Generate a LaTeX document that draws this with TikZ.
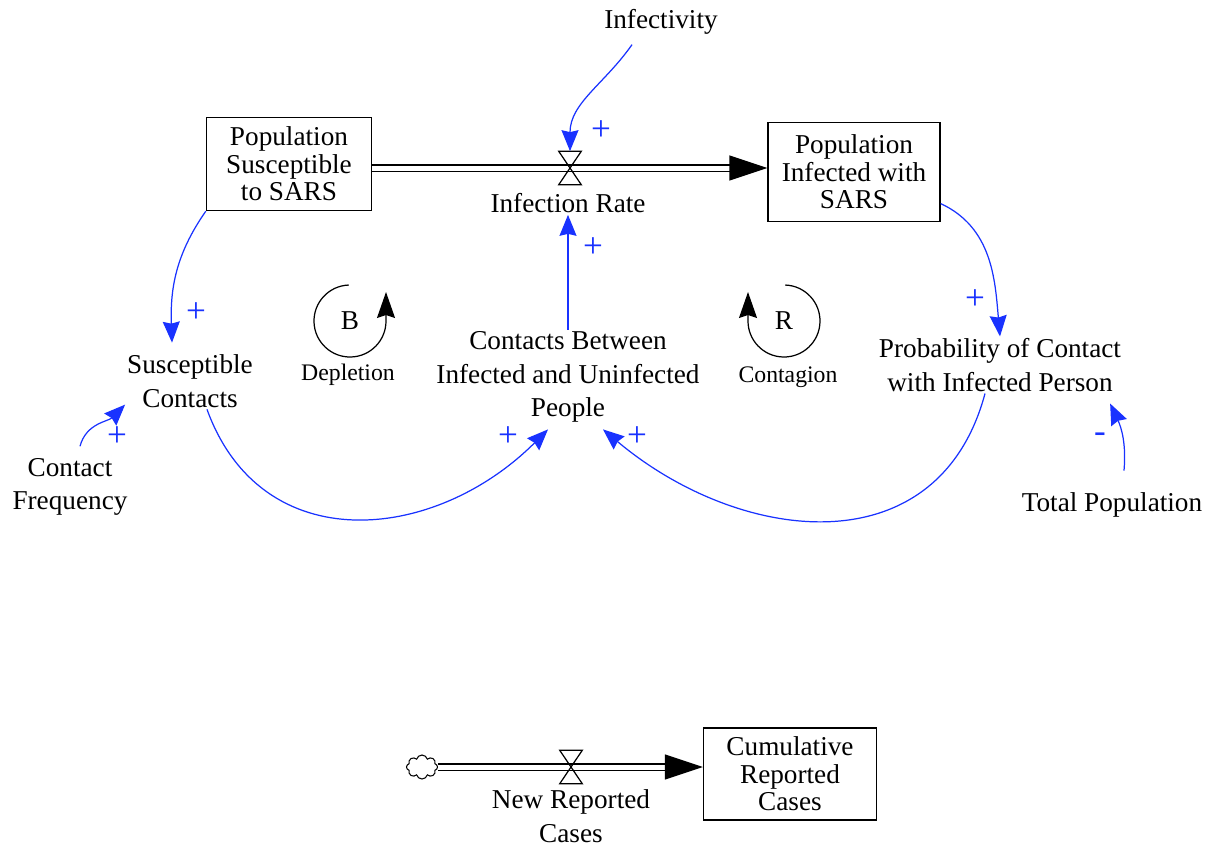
\documentclass[tikz,border=0pt]{standalone}
\usepackage{fontspec}
\setmainfont{Liberation Serif}
\usetikzlibrary{arrows.meta,shapes.symbols}

\definecolor{linkblue}{RGB}{25,50,255}

\tikzset{
  stock/.style={draw, line width=0.8pt, align=center, inner sep=2pt, font=\fontsize{15.5}{15.6}\selectfont},
  aux/.style={align=center, inner sep=1pt, font=\fontsize{15.5}{19}\selectfont},
  link/.style={draw=linkblue, line width=0.7pt, -{Stealth[length=0.42cm,width=0.34cm,inset=0.04cm]}},
  pipe/.style={double, double distance=0.1cm, line width=0.8pt, -{Triangle[length=0.76cm,width=0.5cm]}},
  valve/.style={minimum width=0.44cm, minimum height=0.66cm, inner sep=0pt},
  sign/.style={text=linkblue, inner sep=0pt, font=\fontsize{20}{20}\selectfont},
  loopline/.style={line width=0.7pt, -{Stealth[length=0.52cm,width=0.36cm,inset=0.06cm]}},
  looplabel/.style={inner sep=1pt, font=\fontsize{13.5}{14}\selectfont}
}

\begin{document}
\begin{tikzpicture}[x=0.02cm, y=0.02cm]
  \useasboundingbox (0,0) rectangle (1214,-846);

  % stocks
  \node[stock, minimum width=3.3cm, minimum height=1.86cm] (sus) at (289,-164) {Population\\Susceptible\\to SARS};
  \node[stock, minimum width=3.44cm, minimum height=1.98cm] (inf) at (854,-172) {Population\\Infected with\\SARS};
  \node[stock, minimum width=3.46cm, minimum height=1.84cm] (cum) at (790,-774) {Cumulative\\Reported\\Cases};

  % variables
  \node[valve] (v1) at (570,-168) {};
  \node[aux] (rate) at (568,-203) {Infection Rate};
  \node[aux] (infect) at (661,-22) {Infectivity};
  \node[aux] (cont) at (568,-377) {Contacts Between\\Infected and Uninfected\\People};
  \node[aux] (sc) at (190,-381) {Susceptible\\Contacts};
  \node[aux] (freq) at (70,-487) {Contact\\Frequency};
  \node[aux] (prob) at (1000,-365) {Probability of Contact\\with Infected Person};
  \node[aux] (total) at (1112,-505) {Total Population};

  % second flow
  \node[draw, cloud, cloud puffs=8, minimum width=0.62cm, minimum height=0.48cm, line width=0.6pt, inner sep=0pt] (src) at (422,-767) {};
  \node[valve] (v2) at (571,-767) {};
  \node[aux] (newrep) at (571,-816) {New Reported\\Cases};

  % pipes
  \draw[pipe] (sus.east |- v1) -- (inf.west |- v1);
  \draw[pipe] (src.east) -- (cum.west |- v2);
  \draw[line width=0.7pt] (v1.north west) -- (v1.north east) -- (v1.south west) -- (v1.south east) -- cycle;
  \draw[line width=0.7pt] (v2.north west) -- (v2.north east) -- (v2.south west) -- (v2.south east) -- cycle;

  % causal links
  \draw[link] ([shift={(-0.58cm,-0.16cm)}]infect.south) to[out=235, in=90] (v1.north);
  \draw[link] (cont) -- (rate);
  \draw[link] (sus.south west) to[out=235, in=92] ([shift={(-0.36cm,0.2cm)}]sc.north);
  \draw[link] ([shift={(0.2cm,0.2cm)}]freq.north) to[out=75, in=225] (sc.200);
  \draw[link] ([xshift=0.34cm]sc.south) to[out=-70, in=225, looseness=1.2] ([shift={(-0.4cm,-0.1cm)}]cont.south);
  \draw[link] (inf.-20) to[out=-25, in=95] (prob.north);
  \draw[link] ([shift={(0.24cm,0.4cm)}]total.north) to[out=85, in=-65] ([shift={(-0.26cm,-0.2cm)}]prob.south east);
  \draw[link] ([xshift=-0.3cm]prob.south) to[out=-105, in=-40, looseness=1.2] ([shift={(0.7cm,-0.1cm)}]cont.south);

  % polarities
  \node[sign] (s1) at (601,-131) {+};
  \node[sign] (s2) at (593,-248) {+};
  \node[sign] (s3) at (196,-313) {+};
  \node[sign] (s4) at (117,-437) {+};
  \node[sign] (s5) at (508,-437) {+};
  \node[sign] (s6) at (637,-437) {+};
  \node[sign] (s7) at (975,-300) {+};
  \node[sign] (s8) at (1100,-438) {-};

  % loops
  \node[aux] (bl) at (350,-321) {B};
  \draw[loopline] (bl) ++(92:36) arc[start angle=92, end angle=360, radius=36] -- ++(0,29);
  \node[looplabel] (depl) at (348,-375) {Depletion};
  \node[aux] (rl) at (784,-321) {R};
  \draw[loopline] (rl) ++(88:36) arc[start angle=88, end angle=-180, radius=36] -- ++(0,29);
  \node[looplabel] (contag) at (788,-377) {Contagion};
\end{tikzpicture}
\end{document}
